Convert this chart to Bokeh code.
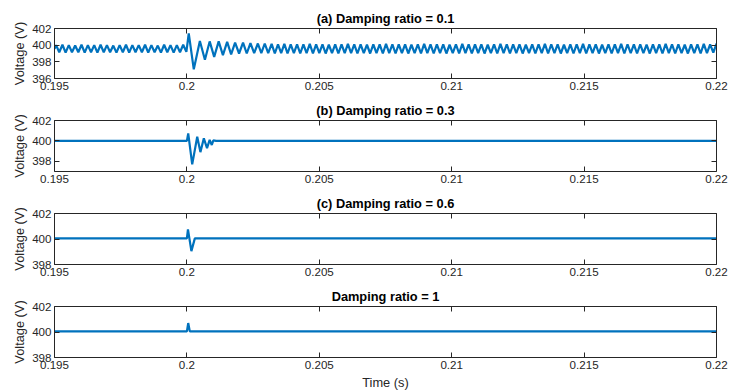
from bokeh.plotting import figure
from bokeh.models import Range1d, FixedTicker, CustomJSTickFormatter, LinearAxis, CustomLabelingPolicy
from bokeh.layouts import column
from bokeh.embed import file_html
from bokeh.resources import INLINE

# ---------------- data (time in ms, voltage in V) ----------------
x_ticks = [0.195, 0.2, 0.205, 0.21, 0.215, 0.22]

titles = ["(a) Damping ratio = 0.1", "(b) Damping ratio = 0.3",
          "(c) Damping ratio = 0.6", "Damping ratio = 1"]

# panel (a): ripple before the step
a_pre_t = [195.00,
           195.06, 195.18, 195.30, 195.42, 195.54, 195.66, 195.78, 195.90, 196.02, 196.14,
           196.26, 196.38, 196.50, 196.62, 196.74, 196.86, 196.98, 197.10, 197.22, 197.34,
           197.46, 197.58, 197.70, 197.82, 197.94, 198.06, 198.18, 198.30, 198.42, 198.54,
           198.66, 198.78, 198.90, 199.02, 199.14, 199.26, 199.38, 199.50, 199.62, 199.74,
           199.86, 199.98]
a_pre_v = [399.55,
           400.0, 399.15, 400.05, 399.1, 400.0, 399.15, 399.95, 399.15, 400.05, 399.1,
           400.0, 399.15, 400.0, 399.1, 400.05, 399.15, 400.0, 399.15, 399.95, 399.1,
           400.0, 399.15, 400.05, 399.1, 400.0, 399.15, 400.0, 399.15, 400.05, 399.1,
           400.0, 399.15, 399.95, 399.1, 400.05, 399.15, 400.0, 399.1, 400.0, 399.15,
           400.05, 399.2]
# panel (a): transient after the step
a_tr_t = [200.07, 200.26, 200.49, 200.68, 200.86, 201.03, 201.20, 201.36, 201.52, 201.67,
          201.82, 201.97, 202.12, 202.26, 202.40, 202.54, 202.68, 202.81, 202.94, 203.07]
a_tr_v = [401.4, 397.1, 400.5, 398.25, 400.45, 398.6, 400.45, 398.8, 400.4, 398.9,
          400.3, 399.0, 400.3, 399.0, 400.25, 399.05, 400.2, 399.05, 400.2, 399.05]
# panel (a): sustained ripple
a_post_t = [203.20, 203.32, 203.44, 203.56, 203.68, 203.80, 203.92, 204.04, 204.16, 204.28,
            204.40, 204.52, 204.64, 204.76, 204.88, 205.00, 205.12, 205.24, 205.36, 205.48,
            205.60, 205.72, 205.84, 205.96, 206.08, 206.20, 206.32, 206.44, 206.56, 206.68,
            206.80, 206.92, 207.04, 207.16, 207.28, 207.40, 207.52, 207.64, 207.76, 207.88,
            208.00, 208.12, 208.24, 208.36, 208.48, 208.60, 208.72, 208.84, 208.96, 209.08,
            209.20, 209.32, 209.44, 209.56, 209.68, 209.80, 209.92, 210.04, 210.16, 210.28,
            210.40, 210.52, 210.64, 210.76, 210.88, 211.00, 211.12, 211.24, 211.36, 211.48,
            211.60, 211.72, 211.84, 211.96, 212.08, 212.20, 212.32, 212.44, 212.56, 212.68,
            212.80, 212.92, 213.04, 213.16, 213.28, 213.40, 213.52, 213.64, 213.76, 213.88,
            214.00, 214.12, 214.24, 214.36, 214.48, 214.60, 214.72, 214.84, 214.96, 215.08,
            215.20, 215.32, 215.44, 215.56, 215.68, 215.80, 215.92, 216.04, 216.16, 216.28,
            216.40, 216.52, 216.64, 216.76, 216.88, 217.00, 217.12, 217.24, 217.36, 217.48,
            217.60, 217.72, 217.84, 217.96, 218.08, 218.20, 218.32, 218.44, 218.56, 218.68,
            218.80, 218.92, 219.04, 219.16, 219.28, 219.40, 219.52, 219.64, 219.76, 219.88,
            220.00]
a_post_v = [400.15, 399.0, 400.1, 399.05, 400.15, 399.0, 400.1, 399.05, 400.1, 399.0,
            400.1, 399.05, 400.15, 399.0, 400.1, 399.05, 400.1, 399.0, 400.05, 399.05,
            400.1, 399.0, 400.1, 399.05, 400.15, 399.05, 400.1, 399.0, 400.1, 399.05,
            400.05, 399.0, 400.1, 399.05, 400.1, 399.0, 400.15, 399.05, 400.1, 399.0,
            400.1, 399.05, 400.1, 399.0, 400.05, 399.05, 400.1, 399.0, 400.15, 399.05,
            400.1, 399.0, 400.1, 399.05, 400.1, 399.0, 400.05, 399.05, 400.1, 399.0,
            400.15, 399.05, 400.1, 399.0, 400.1, 399.05, 400.1, 399.0, 400.05, 399.05,
            400.1, 399.0, 400.15, 399.05, 400.1, 399.0, 400.1, 399.05, 400.1, 399.0,
            400.05, 399.05, 400.1, 399.0, 400.1, 399.05, 400.15, 399.0, 400.1, 399.05,
            400.1, 399.0, 400.05, 399.05, 400.1, 399.0, 400.1, 399.05, 400.15, 399.0,
            400.1, 399.05, 400.1, 399.0, 400.05, 399.05, 400.1, 399.0, 400.1, 399.05,
            400.15, 399.0, 400.1, 399.05, 400.1, 399.0, 400.1, 399.05, 400.05, 399.0,
            400.1, 399.05, 400.1, 399.0, 400.15, 399.05, 400.1, 399.0, 400.1, 399.05,
            400.05, 399.0, 400.1, 399.05, 400.1, 399.0, 400.15, 399.05, 400.1, 399.1,
            400.2]

# panel (b)
b_t = [195.0, 200.0, 200.05, 200.20, 200.39, 200.51, 200.64, 200.76, 200.86, 200.94, 201.0, 201.1, 220.0]
b_v = [400.0, 400.0, 400.73, 397.7, 400.4, 398.9, 400.25, 399.3, 400.1, 399.6, 400.05, 400.0, 400.0]
# panel (c)
c_t = [195.0, 200.0, 200.04, 200.17, 200.30, 220.0]
c_v = [400.05, 400.05, 400.75, 399.05, 400.05, 400.05]
# panel (d)
d_t = [195.0, 200.0, 200.05, 200.11, 220.0]
d_v = [400.05, 400.05, 400.7, 400.05, 400.05]

y_limits = [(396, 402), (397, 402), (398, 402), (398, 402)]
y_ticks = [[396, 398, 400, 402], [398, 400, 402], [398, 400, 402], [398, 400, 402]]

# ---------------- styling ----------------
W = 739
FONT = "Liberation Sans"
TXT = "#262626"
LINE = "#0072BD"
TICK_FS = "11.6px"
LABEL_FS = "12.8px"

fmt_code = "return tick.toFixed(3).replace(/0+$/, '');"
no_labels_code = "const ks = [...indices]; for (const k of ks) { indices.unset(k) } return indices;"


def style_axis(ax, labels=True):
    ax.axis_line_color = TXT
    ax.axis_line_width = 1
    ax.major_tick_line_color = TXT
    ax.major_tick_in = 5
    ax.major_tick_out = 0
    ax.minor_tick_line_color = None
    ax.major_label_text_font = FONT
    ax.major_label_text_color = TXT
    if labels:
        ax.major_label_text_font_size = TICK_FS
        ax.major_label_standoff = 3
    else:
        ax.major_label_text_font_size = "0px"
        ax.major_label_standoff = 0
        ax.major_label_policy = CustomLabelingPolicy(code=no_labels_code)


def panel(title, t_ms, v, ylim, yt, height, top, bottom, xlabel=None):
    p = figure(width=W, height=height, output_backend="svg", toolbar_location=None,
               x_range=Range1d(0.195, 0.22), y_range=Range1d(*ylim),
               min_border_left=54, min_border_right=23,
               min_border_top=top, min_border_bottom=bottom)
    p.grid.visible = False
    p.outline_line_color = None
    p.background_fill_color = "white"
    p.border_fill_color = "white"

    p.title.text = title
    p.title.align = "center"
    p.title.text_font = FONT
    p.title.text_font_size = LABEL_FS
    p.title.text_font_style = "bold"
    p.title.text_color = "#000000"
    p.title.standoff = 5

    xa = p.xaxis[0]
    xa.ticker = FixedTicker(ticks=x_ticks)
    xa.formatter = CustomJSTickFormatter(code=fmt_code)
    style_axis(xa)
    if xlabel:
        xa.axis_label = xlabel
        xa.axis_label_text_font = FONT
        xa.axis_label_text_font_size = LABEL_FS
        xa.axis_label_text_font_style = "normal"
        xa.axis_label_text_color = TXT
        xa.axis_label_standoff = 3

    ya = p.yaxis[0]
    ya.ticker = FixedTicker(ticks=yt)
    style_axis(ya)
    ya.axis_label = "Voltage (V)"
    ya.axis_label_text_font = FONT
    ya.axis_label_text_font_size = LABEL_FS
    ya.axis_label_text_font_style = "normal"
    ya.axis_label_text_color = TXT
    ya.axis_label_standoff = 2

    top_ax = LinearAxis(ticker=FixedTicker(ticks=x_ticks))
    style_axis(top_ax, labels=False)
    p.add_layout(top_ax, "above")
    right_ax = LinearAxis(ticker=FixedTicker(ticks=yt))
    style_axis(right_ax, labels=False)
    p.add_layout(right_ax, "right")

    p.line([t / 1000.0 for t in t_ms], v, line_color=LINE, line_width=2.2)
    return p


a_t = a_pre_t + a_tr_t + a_post_t
a_v = a_pre_v + a_tr_v + a_post_v

p1 = panel(titles[0], a_t, a_v, y_limits[0], y_ticks[0], 93, 28, 15)
p2 = panel(titles[1], b_t, b_v, y_limits[1], y_ticks[1], 93, 27, 15)
p3 = panel(titles[2], c_t, c_v, y_limits[2], y_ticks[2], 93, 27, 15)
p4 = panel(titles[3], d_t, d_v, y_limits[3], y_ticks[3], 113, 27, 35, xlabel="Time (s)")

layout = column(p1, p2, p3, p4, spacing=0)
open("out.html", "w").write(file_html(layout, INLINE))
